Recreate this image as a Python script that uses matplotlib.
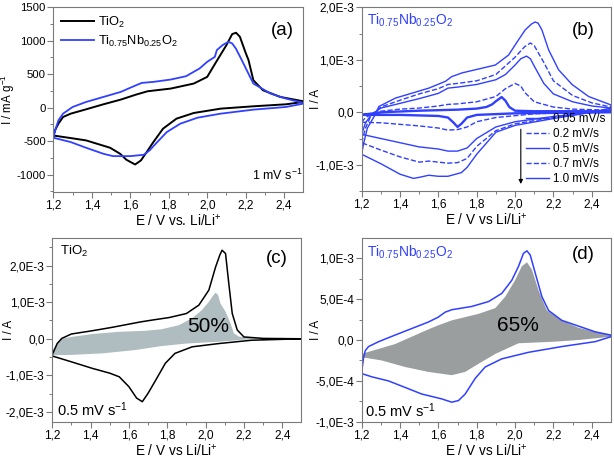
import numpy as np
import matplotlib
matplotlib.use('Agg')
import matplotlib.pyplot as plt
from matplotlib.lines import Line2D

plt.rcParams['font.family'] = ['Liberation Sans', 'DejaVu Sans']
plt.rcParams['mathtext.default'] = 'regular'

BLUE = '#3040ff'
FRAME = '#7a7a7a'

# ---- panel (a): 1 mV/s, mA/g ----
a_tio2_up_E = [1.20, 1.21, 1.226, 1.25, 1.29, 1.37, 1.46, 1.55, 1.63, 1.69, 1.81, 1.93, 2.00, 2.05, 2.10, 2.13, 2.15, 2.17, 2.20, 2.215, 2.24, 2.29, 2.38, 2.50]
a_tio2_up_I = [-417, -330, -240, -140, -90, -25, 50, 120, 195, 245, 285, 360, 460, 700, 935, 1100, 1120, 1060, 820, 710, 410, 260, 160, 95]
a_tio2_dn_E = [2.50, 2.41, 2.24, 2.07, 1.93, 1.84, 1.77, 1.72, 1.685, 1.655, 1.625, 1.58, 1.547, 1.495, 1.37, 1.29, 1.20]
a_tio2_dn_I = [85, 50, 20, -15, -80, -165, -315, -515, -665, -790, -850, -780, -690, -600, -490, -455, -417]

a_nb_up_E = [1.20, 1.21, 1.226, 1.25, 1.30, 1.37, 1.46, 1.55, 1.63, 1.66, 1.72, 1.81, 1.89, 1.96, 2.00, 2.04, 2.05, 2.08, 2.11, 2.13, 2.15, 2.18, 2.24, 2.33, 2.41, 2.50]
a_nb_up_I = [-450, -330, -190, -90, 10, 85, 160, 235, 335, 370, 385, 420, 470, 585, 685, 760, 860, 935, 985, 960, 880, 710, 360, 210, 135, 70]
a_nb_dn_E = [2.50, 2.41, 2.24, 2.07, 1.95, 1.86, 1.79, 1.74, 1.70, 1.67, 1.60, 1.51, 1.46, 1.37, 1.29, 1.20]
a_nb_dn_I = [60, 10, -30, -90, -150, -240, -365, -515, -640, -705, -725, -725, -690, -600, -515, -450]

# ---- panel (b): Ti0.75Nb0.25O2 at several scan rates, 1e-3 A ----
b_rates = ['0.05 mV/s', '0.2 mV/s', '0.5 mV/s', '0.7 mV/s', '1.0 mV/s']
b_styles = ['-', '--', '-', '--', '-']
b_up_E = [
    [1.20, 1.30, 1.50, 1.70, 1.80, 1.85, 1.88, 1.90, 1.93, 1.95, 1.97, 2.00, 2.10, 2.50],
    [1.20, 1.22, 1.25, 1.30, 1.40, 1.50, 1.60, 1.65, 1.70, 1.80, 1.90, 1.95, 2.00, 2.03, 2.05, 2.10, 2.20, 2.30, 2.50],
    [1.20, 1.22, 1.25, 1.30, 1.40, 1.50, 1.60, 1.65, 1.70, 1.80, 1.90, 1.95, 2.00, 2.03, 2.06, 2.08, 2.10, 2.15, 2.20, 2.30, 2.40, 2.50],
    [1.20, 1.22, 1.25, 1.30, 1.40, 1.50, 1.60, 1.65, 1.70, 1.80, 1.90, 2.00, 2.05, 2.08, 2.10, 2.15, 2.20, 2.30, 2.40, 2.50],
    [1.20, 1.21, 1.23, 1.27, 1.29, 1.376, 1.55, 1.637, 1.67, 1.723, 1.897, 1.966, 2.018, 2.053, 2.085, 2.104, 2.12, 2.14, 2.175, 2.227, 2.297, 2.384, 2.50],
]
b_up_I = [
    [-0.05, 0.0, 0.03, 0.05, 0.07, 0.10, 0.15, 0.21, 0.29, 0.22, 0.10, 0.03, 0.02, 0.02],
    [-0.19, -0.10, -0.04, 0.02, 0.06, 0.08, 0.12, 0.15, 0.16, 0.20, 0.30, 0.45, 0.55, 0.50, 0.38, 0.20, 0.10, 0.06, 0.04],
    [-0.42, -0.20, -0.05, 0.08, 0.17, 0.26, 0.36, 0.46, 0.48, 0.53, 0.62, 0.72, 0.90, 1.02, 1.07, 1.02, 0.88, 0.55, 0.35, 0.20, 0.12, 0.08],
    [-0.58, -0.30, -0.05, 0.10, 0.23, 0.35, 0.45, 0.53, 0.55, 0.60, 0.72, 1.05, 1.25, 1.32, 1.27, 0.95, 0.60, 0.32, 0.18, 0.10],
    [-0.80, -0.60, -0.30, -0.05, 0.11, 0.27, 0.46, 0.59, 0.68, 0.75, 0.90, 1.09, 1.38, 1.57, 1.68, 1.72, 1.70, 1.57, 1.19, 0.81, 0.53, 0.30, 0.14],
]
b_dn_E = [
    [2.50, 2.00, 1.80, 1.75, 1.72, 1.70, 1.68, 1.65, 1.60, 1.40, 1.20],
    [2.50, 2.30, 2.10, 1.90, 1.80, 1.75, 1.70, 1.65, 1.60, 1.50, 1.40, 1.30, 1.20],
    [2.50, 2.40, 2.20, 2.00, 1.90, 1.80, 1.75, 1.70, 1.65, 1.60, 1.55, 1.50, 1.40, 1.30, 1.20],
    [2.50, 2.40, 2.20, 2.00, 1.90, 1.80, 1.75, 1.70, 1.65, 1.60, 1.55, 1.50, 1.40, 1.30, 1.20],
    [2.50, 2.40, 2.20, 2.00, 1.90, 1.80, 1.75, 1.72, 1.65, 1.60, 1.55, 1.50, 1.47, 1.40, 1.30, 1.20],
]
b_dn_I = [
    [0.0, -0.02, -0.05, -0.10, -0.22, -0.28, -0.20, -0.10, -0.07, -0.05, -0.05],
    [0.02, 0.0, -0.03, -0.10, -0.18, -0.28, -0.33, -0.34, -0.30, -0.26, -0.23, -0.20, -0.19],
    [0.05, 0.0, -0.08, -0.18, -0.28, -0.50, -0.68, -0.74, -0.74, -0.70, -0.68, -0.66, -0.58, -0.50, -0.42],
    [0.06, 0.0, -0.10, -0.22, -0.35, -0.65, -0.88, -0.96, -0.97, -0.95, -0.93, -0.95, -0.85, -0.72, -0.58],
    [0.08, 0.0, -0.12, -0.25, -0.38, -0.80, -1.05, -1.15, -1.22, -1.22, -1.20, -1.24, -1.26, -1.18, -0.98, -0.80],
]

# ---- panel (c): TiO2 0.5 mV/s + capacitive part, 1e-3 A ----
c_up_E = [1.20, 1.226, 1.25, 1.30, 1.41, 1.51, 1.62, 1.66, 1.72, 1.81, 1.90, 1.965, 2.017, 2.052, 2.075, 2.086, 2.104, 2.121, 2.139, 2.165, 2.20, 2.30, 2.50]
c_up_I = [-0.44, -0.13, 0.01, 0.13, 0.22, 0.31, 0.42, 0.46, 0.51, 0.58, 0.69, 0.92, 1.33, 1.96, 2.30, 2.42, 2.33, 1.51, 0.69, 0.24, 0.05, 0.01, 0.0]
c_dn_E = [2.50, 2.24, 2.07, 1.93, 1.84, 1.79, 1.74, 1.70, 1.67, 1.64, 1.60, 1.55, 1.50, 1.41, 1.30, 1.20]
c_dn_I = [0.0, -0.04, -0.13, -0.22, -0.40, -0.67, -1.13, -1.49, -1.72, -1.62, -1.31, -1.04, -0.94, -0.81, -0.63, -0.47]
c_cap_up_E = [1.20, 1.25, 1.30, 1.41, 1.55, 1.69, 1.77, 1.86, 1.93, 1.98, 2.017, 2.035, 2.052, 2.065, 2.078, 2.104, 2.13, 2.147, 2.173, 2.24, 2.50]
c_cap_up_I = [-0.32, 0.0, 0.05, 0.13, 0.19, 0.22, 0.26, 0.37, 0.56, 0.78, 1.01, 1.15, 1.26, 1.20, 0.96, 0.74, 0.42, 0.15, 0.06, 0.02, 0.0]
c_cap_dn_E = [2.50, 2.24, 2.07, 1.90, 1.77, 1.63, 1.46, 1.30, 1.20]
c_cap_dn_I = [0.0, -0.01, -0.08, -0.13, -0.20, -0.31, -0.40, -0.44, -0.45]

# ---- panel (d): Ti0.75Nb0.25O2 0.5 mV/s + capacitive part, 1e-3 A ----
d_up_E = [1.20, 1.21, 1.219, 1.236, 1.289, 1.374, 1.461, 1.548, 1.60, 1.635, 1.67, 1.774, 1.862, 1.931, 1.983, 2.018, 2.044, 2.062, 2.079, 2.105, 2.14, 2.175, 2.244, 2.331, 2.418, 2.50]
d_up_I = [-0.39, -0.22, -0.13, -0.08, -0.02, 0.06, 0.14, 0.22, 0.28, 0.34, 0.37, 0.41, 0.47, 0.57, 0.73, 0.90, 1.06, 1.09, 1.04, 0.82, 0.53, 0.36, 0.24, 0.17, 0.10, 0.06]
d_dn_E = [2.50, 2.418, 2.244, 2.071, 1.931, 1.844, 1.792, 1.74, 1.705, 1.67, 1.618, 1.548, 1.513, 1.427, 1.34, 1.253, 1.20]
d_dn_I = [0.04, -0.02, -0.08, -0.15, -0.23, -0.33, -0.47, -0.66, -0.74, -0.76, -0.72, -0.68, -0.66, -0.58, -0.50, -0.45, -0.41]
d_cap_up_E = [1.20, 1.374, 1.548, 1.60, 1.67, 1.81, 1.897, 1.949, 2.00, 2.035, 2.062, 2.088, 2.122, 2.166, 2.244, 2.331, 2.418, 2.50]
d_cap_up_I = [-0.17, -0.05, 0.13, 0.18, 0.24, 0.32, 0.39, 0.53, 0.73, 0.90, 0.95, 0.86, 0.61, 0.36, 0.24, 0.15, 0.10, 0.06]
d_cap_dn_E = [2.50, 2.331, 2.209, 2.018, 1.897, 1.81, 1.74, 1.67, 1.548, 1.427, 1.305, 1.20]
d_cap_dn_I = [0.04, 0.0, -0.02, -0.04, -0.17, -0.29, -0.39, -0.43, -0.39, -0.33, -0.25, -0.21]

# ---- ticks ----
x_ticks = [1.2, 1.4, 1.6, 1.8, 2.0, 2.2, 2.4]
x_labels = ['1,2', '1,4', '1,6', '1,8', '2,0', '2,2', '2,4']
a_yticks = [-1000, -500, 0, 500, 1000, 1500]
a_ylabels = ['-1000', '-500', '0', '500', '1000', '1500']
b_yticks = [-1e-3, 0, 1e-3, 2e-3]
b_ylabels = ['-1,0E-3', '0,0', '1,0E-3', '2,0E-3']
c_yticks = [-2e-3, -1e-3, 0, 1e-3, 2e-3]
c_ylabels = ['-2,0E-3', '-1,0E-3', '0,0', '1,0E-3', '2,0E-3']
d_yticks = [-1e-3, -5e-4, 0, 5e-4, 1e-3]
d_ylabels = ['-1,0E-3', '-5,0E-4', '0,0', '5,0E-4', '1,0E-3']


def loop(upE, upI, dnE, dnI, scale=1.0):
    return np.array(upE + dnE), np.array(upI + dnI) * scale


def style(ax, yticks, ylabels, ylim, yminor, ylabel, xlabel, ylab_x):
    ax.set_xlim(1.2, 2.5)
    ax.set_ylim(*ylim)
    ax.set_xticks(x_ticks)
    ax.set_xticklabels(x_labels)
    ax.set_xticks(np.arange(1.3, 2.5, 0.2), minor=True)
    ax.set_yticks(yticks)
    ax.set_yticklabels(ylabels)
    ax.set_yticks(yminor, minor=True)
    for s in ax.spines.values():
        s.set_color(FRAME)
        s.set_linewidth(0.8)
    ax.tick_params(which='major', direction='out', length=4, width=0.8, color=FRAME, labelsize=8.6, pad=1.5)
    ax.tick_params(which='minor', direction='out', length=2.2, width=0.7, color=FRAME)
    ax.set_xlabel(xlabel, fontsize=9.8, labelpad=0.5)
    ax.set_ylabel(ylabel, fontsize=8.4)
    ax.yaxis.set_label_coords(ylab_x, 0.5)


fig = plt.figure(figsize=(6.14, 4.58), dpi=100)
axa = fig.add_axes([0.087, 0.581, 0.407, 0.403])
axb = fig.add_axes([0.589, 0.583, 0.406, 0.401])
axc = fig.add_axes([0.085, 0.079, 0.406, 0.401])
axd = fig.add_axes([0.589, 0.079, 0.406, 0.401])

# (a)
E, I = loop(a_tio2_up_E, a_tio2_up_I, a_tio2_dn_E, a_tio2_dn_I)
axa.plot(E, I, color='black', lw=1.4, label='TiO$_2$')
E, I = loop(a_nb_up_E, a_nb_up_I, a_nb_dn_E, a_nb_dn_I)
axa.plot(E, I, color=BLUE, lw=1.3, label='Ti$_{0.75}$Nb$_{0.25}$O$_2$')
style(axa, a_yticks, a_ylabels, (-1260, 1500), np.arange(-1250, 1500, 250),
      'I / mA g$^{-1}$', 'E / V vs. Li/Li$^{+}$', -0.145)
axa.tick_params(axis='y', labelsize=8.2)
axa.legend(loc='upper left', frameon=False, fontsize=9.3, handlelength=2.6,
           handletextpad=0.3, labelspacing=0.3, borderaxespad=0.15)
axa.text(0.915, 0.875, '(a)', transform=axa.transAxes, fontsize=13.5, ha='center', va='center')
axa.text(0.895, 0.09, '1 mV s$^{-1}$', transform=axa.transAxes, fontsize=9, ha='center', va='center')

# (b)
handles = []
for k in range(len(b_rates)):
    E, I = loop(b_up_E[k], b_up_I[k], b_dn_E[k], b_dn_I[k], 1e-3)
    lw = 1.7 if k == 0 else 1.0
    axb.plot(E, I, color=BLUE, lw=lw, ls=b_styles[k])
    handles.append(Line2D([], [], color=BLUE, lw=1.0, ls=b_styles[k]))
style(axb, b_yticks, b_ylabels, (-1.5e-3, 2.0e-3), np.arange(-1.5e-3, 2.0e-3, 0.5e-3),
      'I / A', 'E / V vs Li/Li$^{+}$', -0.16)
axb.legend(handles, b_rates, loc='lower right', frameon=False, fontsize=8.4, handlelength=1.9,
           handletextpad=0.35, labelspacing=0.25, borderaxespad=0.1)
axb.annotate('', xy=(2.03, -1.42e-3), xytext=(2.03, -0.27e-3),
             arrowprops=dict(arrowstyle='-|>', color='black', lw=0.8, mutation_scale=6))
axb.text(0.02, 0.975, 'Ti$_{0.75}$Nb$_{0.25}$O$_2$', transform=axb.transAxes, fontsize=10,
         color=BLUE, ha='left', va='top')
axb.text(0.89, 0.875, '(b)', transform=axb.transAxes, fontsize=13.5, ha='center', va='center')

# (c)
E, I = loop(c_cap_up_E, c_cap_up_I, c_cap_dn_E, c_cap_dn_I, 1e-3)
axc.fill(E, I, color='#afbcc0', lw=0)
E, I = loop(c_up_E, c_up_I, c_dn_E, c_dn_I, 1e-3)
axc.plot(E, I, color='black', lw=1.1)
style(axc, c_yticks, c_ylabels, (-2.27e-3, 2.75e-3), np.arange(-2.0e-3, 2.75e-3, 0.5e-3),
      'I / A', 'E / V vs Li/Li$^{+}$', -0.15)
axc.text(0.03, 0.97, 'TiO$_2$', transform=axc.transAxes, fontsize=9.5, ha='left', va='top')
axc.text(0.9, 0.89, '(c)', transform=axc.transAxes, fontsize=13.5, ha='center', va='center')
axc.text(2.013, 0.34e-3, '50%', fontsize=15, ha='center', va='center')
axc.text(0.16, 0.065, '0.5 mV s$^{-1}$', transform=axc.transAxes, fontsize=10.5, ha='center', va='center')

# (d)
E, I = loop(d_cap_up_E, d_cap_up_I, d_cap_dn_E, d_cap_dn_I, 1e-3)
axd.fill(E, I, color='#9a9e9e', lw=0)
E, I = loop(d_up_E, d_up_I, d_dn_E, d_dn_I, 1e-3)
axd.plot(E, I, color=BLUE, lw=1.1)
style(axd, d_yticks, d_ylabels, (-1.0e-3, 1.245e-3), np.arange(-0.75e-3, 1.245e-3, 0.25e-3),
      'I / A', 'E / V vs Li/Li$^{+}$', -0.16)
axd.text(0.02, 0.97, 'Ti$_{0.75}$Nb$_{0.25}$O$_2$', transform=axd.transAxes, fontsize=10,
         color=BLUE, ha='left', va='top')
axd.text(0.89, 0.91, '(d)', transform=axd.transAxes, fontsize=13.5, ha='center', va='center')
axd.text(2.017, 0.18e-3, '65%', fontsize=15, ha='center', va='center')
axd.text(0.155, 0.06, '0.5 mV s$^{-1}$', transform=axd.transAxes, fontsize=10.5, ha='center', va='center')

fig.savefig('out.png', dpi=100)
